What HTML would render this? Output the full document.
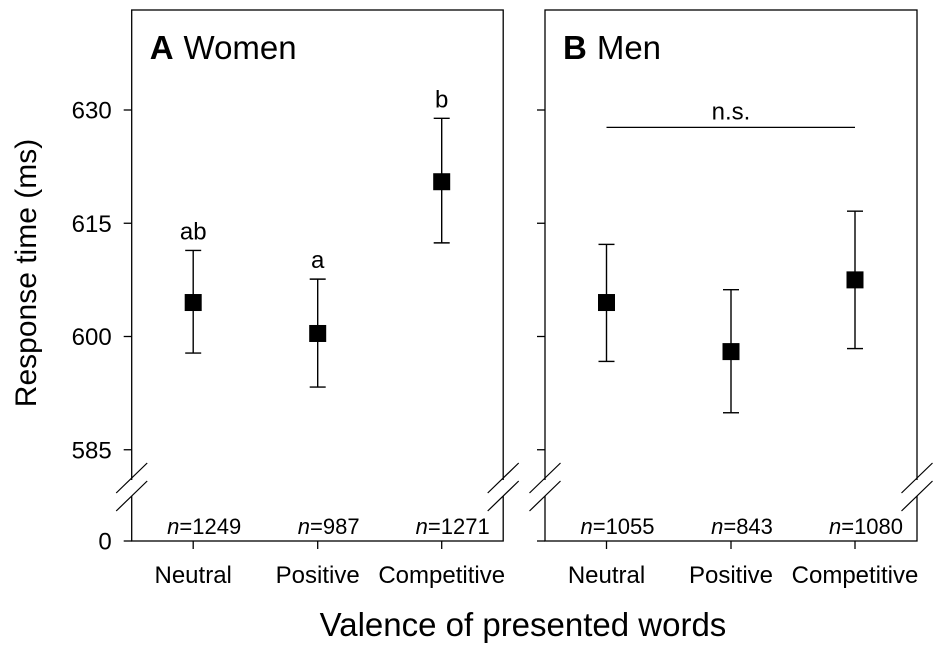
<!DOCTYPE html>
<html><head><meta charset="utf-8"><style>
html,body{margin:0;padding:0;background:#fff;}
svg{display:block;font-family:"Liberation Sans",Arial,sans-serif;}
</style></head><body>
<svg id="chart" width="935" height="647" viewBox="0 0 935 647" xmlns="http://www.w3.org/2000/svg"></svg>
<script>
const categories = ["Neutral", "Positive", "Competitive"];
const womenMean = [604.5, 600.4, 620.5];
const womenUpper = [611.4, 607.6, 628.9];
const womenLower = [597.8, 593.3, 612.4];
const womenLetters = ["ab", "a", "b"];
const womenN = ["1249", "987", "1271"];
const menMean = [604.5, 598.0, 607.5];
const menUpper = [612.2, 606.2, 616.6];
const menLower = [596.7, 589.9, 598.4];
const menN = ["1055", "843", "1080"];
const yTicks = [585, 600, 615, 630];
const nsLevel = 627.7;

const SVGNS = "http://www.w3.org/2000/svg";
const svgRoot = document.getElementById('chart');
function el(tag, attrs, parent) {
  const e = document.createElementNS(SVGNS, tag);
  for (const k in attrs) e.setAttribute(k, attrs[k]);
  (parent || svgRoot).appendChild(e);
  return e;
}
const plotTop = 10, plotBottom = 541;
function yScale(v) { return 336.5 - (v - 600) * 7.55; }
const catOffsets = [61.5, 186, 310];

function panel(left, width, label, title, mean, upper, lower, letters, ns, showLabels) {
  const g = el('g', {});
  
  
  const right = left + width;
  const frame = el('rect', {x: left, y: plotTop, width: width, height: plotBottom - plotTop, fill: 'none', stroke: '#000', 'stroke-width': 1.3}, g);
  
  
  yTicks.forEach(t => {
    const tk = el('line', {x1: left - 8, x2: left, y1: yScale(t), y2: yScale(t), stroke: '#000', 'stroke-width': 1.3}, g);
    
    
    if (showLabels) {
      const tl = el('text', {x: left - 20, y: yScale(t) + 8.5, 'text-anchor': 'end', 'font-size': 24}, g);
      tl.textContent = t;
      
      
    }
  });
  el('line', {x1: left - 8, x2: left, y1: plotBottom, y2: plotBottom, stroke: '#000', 'stroke-width': 1.3}, g);
  if (showLabels) {
    const z = el('text', {x: left - 20, y: plotBottom + 8.5, 'text-anchor': 'end', 'font-size': 24}, g);
    z.textContent = '0';
    
    
  }
  [left - 15.5, right - 15.5].forEach(bx => {
    const br = el('g', {stroke: '#000', 'stroke-width': 1.2}, g);
    
    
    el('rect', {x: bx + 13, y: 480, width: 5, height: 16, fill: '#fff', stroke: 'none'}, br);
    [0, 18].forEach(dy => {
      el('line', {x1: bx, y1: 493 + dy, x2: bx + 31, y2: 463 + dy}, br);
    });
  });
  const tt = el('text', {x: left + 18, y: 59, 'font-size': 33}, g);
  
  
  const b = el('tspan', {'font-weight': 'bold'}, tt); b.textContent = label;
  const tw = el('tspan', {dx: 10}, tt); tw.textContent = title;
  categories.forEach((c, i) => {
    const cx = left + catOffsets[i];
    const xt = el('line', {x1: cx, x2: cx, y1: plotBottom, y2: plotBottom + 8, stroke: '#000', 'stroke-width': 1.3}, g);
    
    
    const cl = el('text', {x: cx, y: 583, 'text-anchor': 'middle', 'font-size': 24}, g);
    cl.textContent = c;
    
    
    const eb = el('g', {stroke: '#000', 'stroke-width': 1.4}, g);
    
    
    el('line', {x1: cx, x2: cx, y1: yScale(upper[i]), y2: yScale(lower[i])}, eb);
    el('line', {x1: cx - 8, x2: cx + 8, y1: yScale(upper[i]), y2: yScale(upper[i])}, eb);
    el('line', {x1: cx - 8, x2: cx + 8, y1: yScale(lower[i]), y2: yScale(lower[i])}, eb);
    const sq = el('rect', {x: cx - 8.5, y: yScale(mean[i]) - 8.5, width: 17, height: 17, fill: '#000'}, g);
    
    
    if (letters) {
      const lt = el('text', {x: cx, y: yScale(upper[i]) - 11, 'text-anchor': 'middle', 'font-size': 24}, g);
      lt.textContent = letters[i];
      
      
    }
    const nt = el('text', {x: cx + 11, y: 534, 'text-anchor': 'middle', 'font-size': 22}, g);
    
    
    const ni = el('tspan', {'font-style': 'italic'}, nt); ni.textContent = 'n';
    const nv = el('tspan', {}, nt); nv.textContent = '=' + ns[i];
  });
  return g;
}
panel(131.7, 371.5, 'A', 'Women', womenMean, womenUpper, womenLower, womenLetters, womenN, true);
const gB = panel(545, 372, 'B', 'Men', menMean, menUpper, menLower, null, menN, false);
const nsLine = el('line', {x1: 545 + catOffsets[0], x2: 545 + catOffsets[2], y1: yScale(nsLevel), y2: yScale(nsLevel), stroke: '#000', 'stroke-width': 1.2}, gB);


const nsT = el('text', {x: 545 + catOffsets[1], y: yScale(nsLevel) - 8, 'text-anchor': 'middle', 'font-size': 24}, gB);
nsT.textContent = 'n.s.';



const xTitle = el('text', {x: 523, y: 636, 'text-anchor': 'middle', 'font-size': 33});
xTitle.textContent = 'Valence of presented words';


const yTitle = el('text', {x: 0, y: 0, 'text-anchor': 'middle', 'font-size': 30, transform: 'translate(36,273) rotate(-90)'});
yTitle.textContent = 'Response time (ms)';


</script>
</body></html>
